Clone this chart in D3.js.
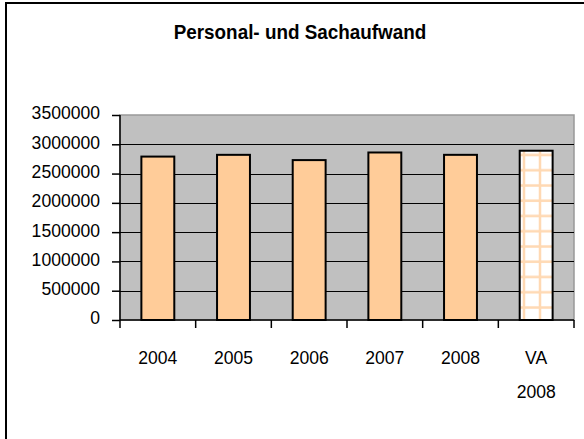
<!DOCTYPE html>
<html><head><meta charset="utf-8">
<script src="https://cdn.jsdelivr.net/npm/d3@7"></script>
<style>html,body{margin:0;background:#fff;overflow:hidden}svg{display:block;overflow:hidden}text{font-family:"Liberation Sans",Arial,sans-serif}</style>
</head><body><svg id="c" width="584" height="439"></svg>
<script>
const categories = [["2004"],["2005"],["2006"],["2007"],["2008"],["VA","2008"]];
const values = [2790000, 2820000, 2730000, 2860000, 2820000, 2890000];
const patterned = [false,false,false,false,false,true];
const yTicks = [0,500000,1000000,1500000,2000000,2500000,3000000,3500000];
const title = "Personal- und Sachaufwand";

const svg = d3.select("#c");
const m = {left:120, right:574, top:115, bottom:320};
const sx = 0.95;
const keys = categories.map(c=>c.join(" "));
const x = d3.scaleBand().domain(keys).range([m.left, m.right]);
const y = d3.scaleLinear().domain([0,3500000]).range([m.bottom, m.top]);

const defs = svg.append("defs");
const pat = defs.append("pattern").attr("id","grid").attr("patternUnits","userSpaceOnUse")
  .attr("width",16).attr("height",15.25).attr("x",0).attr("y",0);
pat.append("rect").attr("width",16).attr("height",15.25).attr("fill","#fff");
pat.append("rect").attr("x",10.75).attr("y",0).attr("width",2.5).attr("height",15.25).attr("fill","#FFD9B3");
pat.append("rect").attr("x",0).attr("y",1.25).attr("width",16).attr("height",2.5).attr("fill","#FFD9B3");

// outer frame (left and top edges visible)
svg.append("path").attr("d","M6,439V3H584").attr("fill","none").attr("stroke","#000").attr("stroke-width",2);

// plot area
svg.append("rect").attr("x",m.left).attr("y",m.top).attr("width",m.right-m.left).attr("height",m.bottom-m.top)
  .attr("fill","#C0C0C0").attr("stroke","#999").attr("stroke-width",1.5);

// gridlines
svg.append("g").selectAll("line").data(yTicks.filter(d=>d>0 && d<3500000)).join("line")
  .attr("x1",m.left).attr("x2",m.right).attr("y1",d=>Math.round(y(d))+0.5).attr("y2",d=>Math.round(y(d))+0.5)
  .attr("stroke","#000").attr("stroke-width",1);

// bars
const bw = x.bandwidth()*0.435;
svg.append("g").selectAll("rect").data(values).join("rect")
  .attr("x",(d,i)=>x(keys[i])+x.bandwidth()/2-bw/2)
  .attr("y",d=>y(d)).attr("width",bw).attr("height",d=>m.bottom-y(d))
  .attr("fill",(d,i)=>patterned[i]?"url(#grid)":"#FFCC99")
  .attr("stroke","#000").attr("stroke-width",2);

// y axis
const ya = svg.append("g").attr("transform",`translate(${m.left},0)`)
  .call(d3.axisLeft(y).tickValues(yTicks).tickFormat(d3.format("d")).tickSize(8).tickPadding(12));
ya.select(".domain").attr("stroke","#000").attr("stroke-width",1.5).attr("d",`M-0,${m.top}V${m.bottom}`);
ya.selectAll(".tick line").attr("stroke","#000").attr("stroke-width",1.5);
ya.selectAll("text").attr("font-size",18.5).attr("fill","#000").attr("font-family","'Liberation Sans',Arial,sans-serif")
  .attr("x",-20/sx).attr("dy","0.21em").attr("transform",`scale(${sx},1)`);

// x axis
svg.append("line").attr("x1",m.left).attr("x2",m.right).attr("y1",m.bottom).attr("y2",m.bottom)
  .attr("stroke","#000").attr("stroke-width",1.5);
const bounds = keys.map(k=>x(k)).concat([m.right]);
svg.append("g").selectAll("line").data(bounds).join("line")
  .attr("x1",d=>d).attr("x2",d=>d).attr("y1",m.bottom).attr("y2",m.bottom+8)
  .attr("stroke","#000").attr("stroke-width",1.5);
const xg = svg.append("g").selectAll("g").data(categories).join("g")
  .attr("transform",(d,i)=>`translate(${x(keys[i])+x.bandwidth()/2},0) scale(${sx},1)`);
xg.selectAll("text").data(d=>d).join("text")
  .attr("x",0).attr("y",(d,i)=>364+i*34)
  .attr("text-anchor","middle").attr("font-size",18.5).attr("fill","#000").text(d=>d);

// title
svg.append("text").attr("transform",`translate(300,39.3) scale(0.944,1)`).attr("text-anchor","middle")
  .attr("font-size",20).attr("font-weight","bold").attr("fill","#000").text(title);
</script></body></html>
